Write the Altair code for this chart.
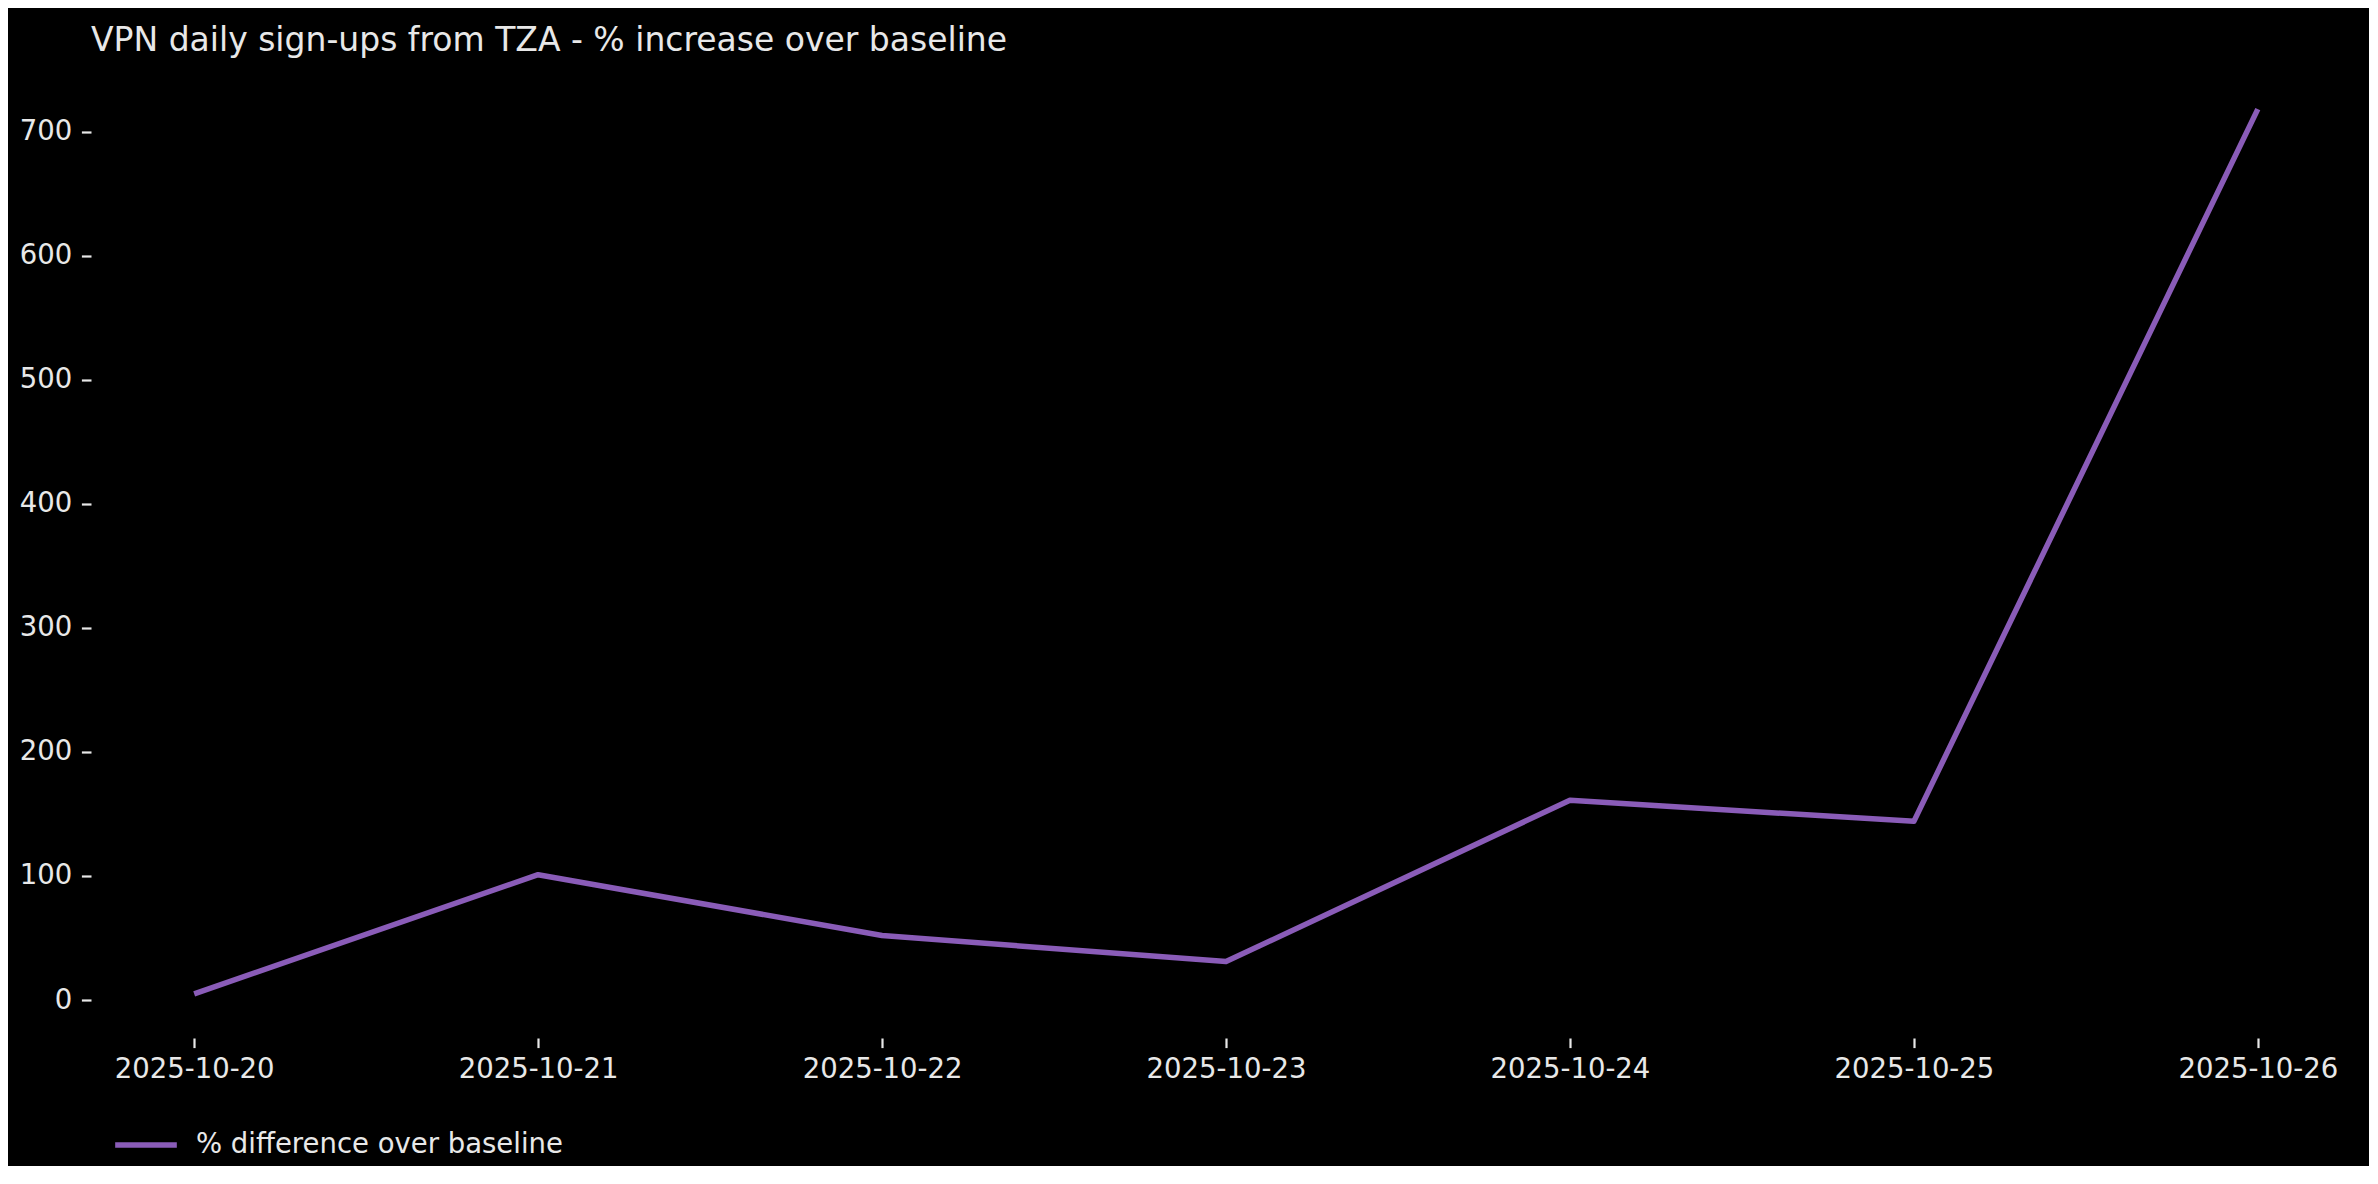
import altair as alt
import pandas as pd

dates = ["2025-10-20", "2025-10-21", "2025-10-22", "2025-10-23",
         "2025-10-24", "2025-10-25", "2025-10-26"]
values = [5, 101, 52, 31, 161, 144, 718]
series_name = "% difference over baseline"
y_ticks = [0, 100, 200, 300, 400, 500, 600, 700]

df = pd.DataFrame({"date": dates, "value": values, "series": [series_name] * len(dates)})

FONT = "DejaVu Sans"
TXT = "#e8e8e8"
PURPLE = "#8a5cb8"

chart = alt.Chart(df).mark_line(strokeWidth=5.5, strokeCap="butt", strokeJoin="round").encode(
    x=alt.X("date:O", sort=dates,
            scale=alt.Scale(type="point", padding=0.3),
            axis=alt.Axis(title=None, labelAngle=0, domain=False, grid=False,
                          tickSize=9.6, tickWidth=2.2, tickColor=TXT,
                          labelFontSize=27.5, labelFont=FONT, labelColor=TXT,
                          labelPadding=8)),
    y=alt.Y("value:Q",
            scale=alt.Scale(domain=[-30.6, 753.6], nice=False, zero=False),
            axis=alt.Axis(title=None, values=y_ticks, domain=False, grid=False,
                          tickSize=9.6, tickWidth=2.2, tickColor=TXT,
                          labelFontSize=27.5, labelFont=FONT, labelColor=TXT,
                          labelPadding=9.6)),
    color=alt.Color("series:N",
                    scale=alt.Scale(domain=[series_name], range=[PURPLE]),
                    legend=alt.Legend(title=None, orient="none", legendX=21, legendY=1046,
                                      symbolType="stroke", symbolSize=3800,
                                      symbolStrokeWidth=5.5, labelLimit=0,
                                      labelFontSize=27.5, labelFont=FONT, labelColor=TXT,
                                      labelOffset=16)),
).properties(
    width=2270,
    height=973,
    title=alt.Title("VPN daily sign-ups from TZA - % increase over baseline",
                    anchor="start", frame="group", fontSize=33, font=FONT, color=TXT,
                    fontWeight="normal", offset=7),
    background="black",
    padding={"left": 83, "top": 57, "right": 8, "bottom": 128},
    autosize=alt.AutoSizeParams(type="none"),
).configure_view(stroke=None)

chart.save("out.html", embed_options={"renderer": "svg", "actions": False})
